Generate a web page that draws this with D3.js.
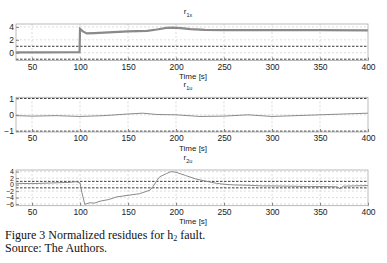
<!DOCTYPE html>
<html>
<head>
<meta charset="utf-8">
<script src="https://cdn.jsdelivr.net/npm/d3@7"></script>
<style>
  body { margin: 0; background: #fff; }
  text { font-family: "Liberation Sans", Arial, sans-serif; }
  .caption { font-family: "Liberation Serif", "Times New Roman", serif; font-size: 12px; }
</style>
</head>
<body>
<div id="chart"></div>
<script>
// figure size
var svgWidth = 387;
var svgHeight = 263;

var xTicks = [50, 100, 150, 200, 250, 300, 350, 400];

// r1x residue
var r1xTime = [33, 60, 99.5, 100, 103, 107, 115, 130, 150, 170, 180, 190, 197, 205, 215, 230, 250, 300, 350, 400];
var r1xVals = [0.05, 0.05, 0.1, 3.7, 3.3, 3.0, 3.05, 3.15, 3.3, 3.4, 3.6, 3.85, 3.9, 3.8, 3.65, 3.55, 3.5, 3.5, 3.5, 3.45];

// r1u residue
var r1uTime = [33, 50, 75, 100, 125, 150, 165, 180, 200, 225, 250, 275, 300, 325, 350, 375, 400];
var r1uVals = [-0.05, -0.08, -0.05, -0.1, -0.05, 0.05, 0.1, 0.02, 0.0, -0.1, -0.08, 0.0, -0.1, -0.05, 0.0, 0.05, 0.1];

// r2u residue
var r2uTime = [33, 50, 70, 90, 96, 100, 102, 105, 110, 115, 121, 130, 138, 150, 162, 173, 176, 180, 183, 190, 195, 200, 210, 221, 232, 242, 250, 260, 275, 290, 300, 320, 340, 360, 368, 371, 374, 385, 400];
var r2uVals = [0.4, 0.3, 0.5, 0.7, 0.9, 0.5, -2.5, -6.1, -5.6, -5.7, -5.1, -4.6, -3.8, -3.3, -2.8, -1.7, -0.6, 1.2, 2.4, 3.4, 4.0, 3.8, 2.8, 1.7, 1.0, 0.4, 0.1, -0.1, -0.2, -0.4, -0.4, -0.5, -0.6, -0.6, -0.7, -1.3, -0.5, -0.4, -0.3];

var panels = [
    { title: "1x", time: r1xTime, vals: r1xVals, top: 24, bottom: 60.5, domain: [-1.2, 4.45], yTicks: [0, 2, 4], width: 2.2, tickFont: 8.5 },
    { title: "1u", time: r1uTime, vals: r1uVals, top: 97.3, bottom: 132, domain: [-1.05, 1.07], yTicks: [-1, 0, 1], width: 1, tickFont: 8.5 },
    { title: "2u", time: r2uTime, vals: r2uVals, top: 170, bottom: 205.7, domain: [-6.5, 4.5], yTicks: [-6, -4, -2, 0, 2, 4], width: 1, tickFont: 7 }
];
var thresholds = [-1, 1];

var left = 16, right = 368;

var svg = d3.select('#chart').append('svg')
    .attr('width', svgWidth)
    .attr('height', svgHeight);

var xScale = d3.scaleLinear().domain([33.3, 400]).range([left, right]);

panels.forEach(p => {
    var yScale = d3.scaleLinear().domain(p.domain).range([p.bottom, p.top]);
    var g = svg.append('g');

    // grid (matlab style dotted)
    g.selectAll('.vgrid').data(xTicks.slice(0, -1)).enter().append('line')
        .attr('x1', d => xScale(d)).attr('x2', d => xScale(d))
        .attr('y1', p.top).attr('y2', p.bottom)
        .attr('stroke', '#d4d4d4').attr('stroke-width', 0.8).attr('stroke-dasharray', '2,2');
    g.selectAll('.hgrid').data(p.yTicks).enter().append('line')
        .attr('x1', left).attr('x2', right)
        .attr('y1', d => yScale(d)).attr('y2', d => yScale(d))
        .attr('stroke', '#d4d4d4').attr('stroke-width', 0.8).attr('stroke-dasharray', '2,2');

    // threshold lines
    g.selectAll('.thr').data(thresholds).enter().append('line')
        .attr('x1', left).attr('x2', right)
        .attr('y1', d => yScale(d)).attr('y2', d => yScale(d))
        .attr('stroke', '#222').attr('stroke-width', 0.9).attr('stroke-dasharray', '2.5,1.5');

    // residue curve
    var line = d3.line().x((d, i) => xScale(p.time[i])).y(d => yScale(d));
    g.append('path')
        .datum(p.vals)
        .attr('d', line)
        .attr('fill', 'none')
        .attr('stroke', '#8a8a8a')
        .attr('stroke-width', p.width);

    // box
    g.append('rect')
        .attr('x', left).attr('y', p.top)
        .attr('width', right - left).attr('height', p.bottom - p.top)
        .attr('fill', 'none').attr('stroke', '#aaa').attr('stroke-width', 0.8);

    // axes
    var xAxis = d3.axisBottom(xScale).tickValues(xTicks).tickSize(-3).tickPadding(3);
    var xg = g.append('g').attr('transform', `translate(0, ${p.bottom})`).call(xAxis);
    xg.select('.domain').remove();
    xg.selectAll('line').attr('stroke', '#888');
    xg.selectAll('text').attr('font-size', 8.5).attr('fill', '#222').attr('font-family', '"Liberation Sans", Arial, sans-serif');

    var yAxis = d3.axisLeft(yScale).tickValues(p.yTicks).tickFormat(d3.format('d')).tickSize(-3).tickPadding(2);
    var yg = g.append('g').attr('transform', `translate(${left}, 0)`).call(yAxis);
    yg.select('.domain').remove();
    yg.selectAll('line').attr('stroke', '#888');
    yg.selectAll('text').attr('font-size', p.tickFont).attr('fill', '#222').attr('font-family', '"Liberation Sans", Arial, sans-serif');

    // title r_xx
    var t = g.append('text')
        .attr('x', 188).attr('y', p.top - 10)
        .attr('text-anchor', 'middle')
        .attr('font-size', 8).attr('fill', '#222');
    t.append('tspan').text('r');
    t.append('tspan').attr('font-size', 5.5).attr('dy', 2.5).text(p.title);

    // x label
    g.append('text')
        .attr('x', 193).attr('y', p.bottom + 18.5)
        .attr('text-anchor', 'middle')
        .attr('font-size', 8).attr('fill', '#222')
        .text('Time [s]');
});

// caption
var cap = svg.append('text').attr('class', 'caption').attr('x', 5).attr('y', 239).attr('fill', '#111');
cap.append('tspan').text('Figure 3 Normalized residues for h');
cap.append('tspan').attr('font-size', 8).attr('dy', 2).text('2');
cap.append('tspan').attr('dy', -2).text(' fault.');
svg.append('text').attr('class', 'caption').attr('x', 5).attr('y', 252).attr('fill', '#111')
    .text('Source: The Authors.');
</script>
</body>
</html>
